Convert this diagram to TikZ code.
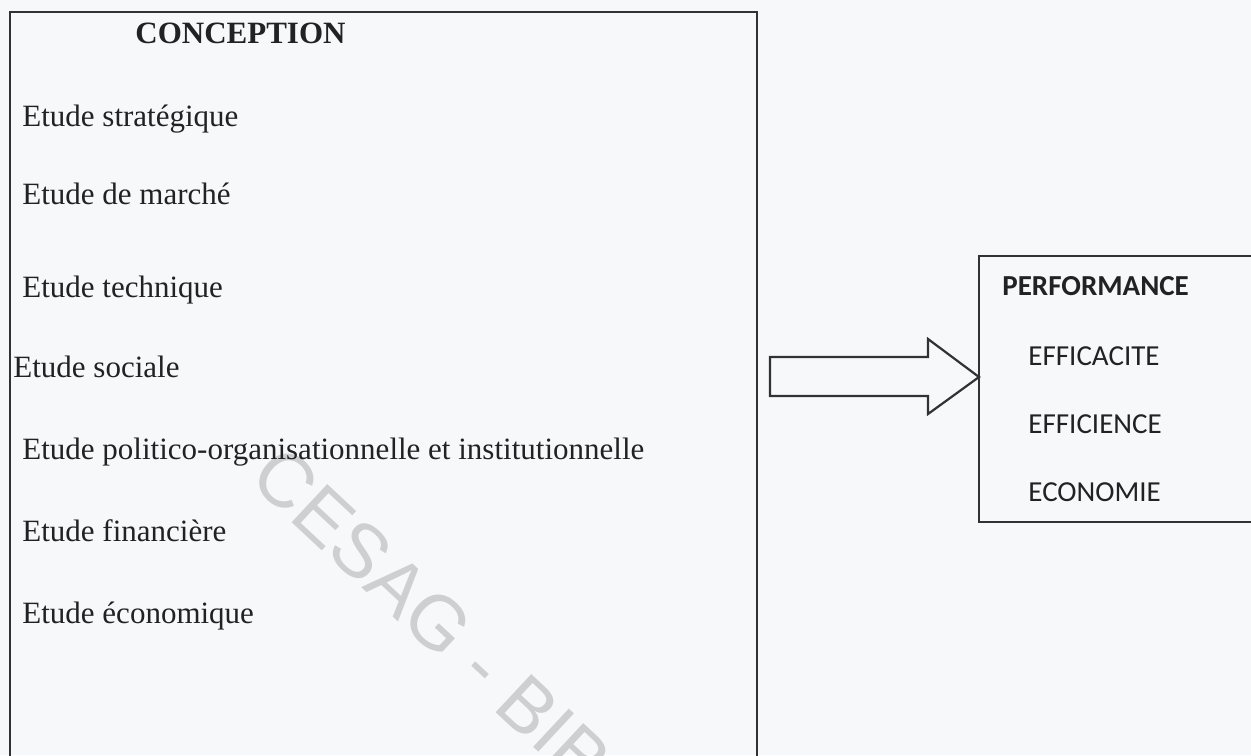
\documentclass[tikz,border=0pt]{standalone}
\usepackage{fontspec}
\usetikzlibrary{calc}
\setmainfont{Liberation Serif}
\newfontfamily\calib{Carlito}
\newfontfamily\arialf{Liberation Sans}
\definecolor{bgc}{RGB}{246,248,250}
\definecolor{ink}{RGB}{34,34,34}
\definecolor{linec}{RGB}{50,50,50}
\definecolor{wmark}{RGB}{205,207,209}
\tikzset{
  boxline/.style={draw=linec, line width=1.1pt},
  item/.style={anchor=base west, inner sep=0pt, text=ink, font=\fontsize{15.5}{18}\selectfont},
  titletext/.style={anchor=base west, inner sep=0pt, text=ink, font=\fontsize{15.5}{18}\selectfont\bfseries},
  perf/.style={anchor=base west, inner sep=0pt, text=ink, font=\calib\fontsize{14.5}{17}\selectfont},
  watermarktext/.style={inner sep=0pt, text=wmark, font=\arialf\fontsize{38}{38}\selectfont}
}
\begin{document}
\begin{tikzpicture}[x=0.5pt,y=-0.5pt]
\useasboundingbox (0,0) rectangle (1251,755);
\fill[bgc] (0,0) rectangle (1251,755);
\begin{scope}
\clip (0,0) rectangle (1251,755);
\node[watermarktext, rotate=-43] (wm) at (432,617) {CESAG - BIB};
% left box (open at bottom: cut by the page edge)
\draw[boxline] (10,800) -- (10,12) -- (757,12) -- (757,800);
% right box (cut by the right page edge)
\draw[boxline] (1300,256) -- (979,256) -- (979,522) -- (1300,522);
\end{scope}
\node[titletext] (concept) at (135,43) {CONCEPTION};
\node[item] (i1) at (22,126) {Etude stratégique};
\node[item] (i2) at (22,204) {Etude de marché};
\node[item] (i3) at (22,297) {Etude technique};
\node[item] (i4) at (13,377) {Etude sociale};
\node[item] (i5) at (22,459) {Etude politico-organisationnelle et institutionnelle};
\node[item] (i6) at (22,541) {Etude financière};
\node[item] (i7) at (22,623) {Etude économique};
\node[perf, font=\calib\bfseries\fontsize{14.5}{17}\selectfont] (p0) at (1002,295) {PERFORMANCE};
\node[perf] (p1) at (1028,365) {EFFICACITE};
\node[perf] (p2) at (1028,433) {EFFICIENCE};
\node[perf] (p3) at (1028,501) {ECONOMIE};
% block arrow
\coordinate (tip) at (979,377);
\draw[boxline, fill=bgc, line join=miter]
  ($(tip)+(-209,-20)$) -- ($(tip)+(-51,-20)$) -- ($(tip)+(-51,-38)$) -- (tip)
  -- ($(tip)+(-51,37)$) -- ($(tip)+(-51,19)$) -- ($(tip)+(-209,19)$) -- cycle;
\end{tikzpicture}
\end{document}
